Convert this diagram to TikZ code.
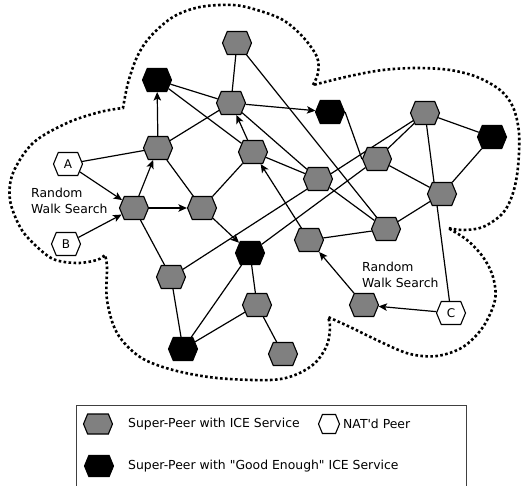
\documentclass[tikz,border=0pt]{standalone}
\usepackage{fontspec}
\newfontfamily\dv{DejaVu Sans}
\usetikzlibrary{shapes.symbols,arrows.meta,backgrounds}
\begin{document}
\begin{tikzpicture}[x=1pt,y=-1pt,
  hex/.style={signal, signal to=east and west, signal pointer angle=135, draw=black, line width=1.1pt, inner sep=0pt, minimum width=29pt, minimum height=23pt, font=\dv\fontsize{12}{14}\selectfont},
  sp/.style={hex, fill=gray},
  gp/.style={hex, fill=black},
  np/.style={hex, fill=white},
  link/.style={line width=1.2pt, draw=black},
  arr/.style={link, -{Stealth[length=8.5pt,width=7.5pt,inset=2pt]}},
  cloud/.style={line width=2.6pt, dash pattern=on 2.6pt off 2.4pt},
  lbl/.style={font=\dv\fontsize{12.4}{16}\selectfont, align=left, inner sep=0pt, anchor=west},
  legbox/.style={draw=black!75, line width=0.8pt}
]
\useasboundingbox (0,0) rectangle (521,486);

% nodes
\node[sp] (T) at (237,43) {};
\node[gp] (K1) at (157,80) {};
\node[sp] (N1) at (231,103) {};
\node[gp] (K2) at (330,112) {};
\node[sp] (N2) at (425,113) {};
\node[gp] (K3) at (492,137) {};
\node[sp] (N3) at (158,148) {};
\node[sp] (N4) at (253,152) {};
\node[sp] (N5) at (377,159) {};
\node[np] (A) at (68,164) {A};
\node[sp] (N6) at (318,179) {};
\node[sp] (N7) at (442,194) {};
\node[sp] (N8) at (134,208) {};
\node[sp] (N9) at (202,208) {};
\node[sp] (N10) at (386,229) {};
\node[sp] (N11) at (309,240) {};
\node[np] (B) at (66,244) {B};
\node[gp] (K4) at (250,253) {};
\node[sp] (N12) at (171,277) {};
\node[sp] (N13) at (257,305) {};
\node[sp] (N14) at (364,305) {};
\node[np] (C) at (451,313) {C};
\node[gp] (K5) at (183,349) {};
\node[sp] (N15) at (283,354) {};

\node[lbl] (rw1) at (31,201) {Random\\Walk Search};
\node[lbl] (rw2) at (362,275) {Random\\Walk Search};

% legend
\draw[legbox] (76,492) -- (76,405) -- (466,405) -- (466,492);
\node[sp, minimum height=20pt] (L1) at (98,424) {};
\node[lbl] (L1t) at (128,424) {Super-Peer with ICE Service};
\node[np, minimum width=21pt, minimum height=19pt] (L2) at (329,424) {};
\node[lbl] (L2t) at (343,424) {NAT'd Peer};
\node[gp, minimum height=21pt] (L3) at (99,466) {};
\node[lbl] (L3t) at (128,466) {Super-Peer with "Good Enough" ICE Service};

\begin{scope}[on background layer]
% cloud
\draw[cloud] plot[smooth, tension=0.55] coordinates {(313,85) (318,73) (317,57) (303,37) (283,20) (257,10) (233,5) (200,7) (173,17) (150,37) (137,57) (128,83) (123,108)}
 -- plot[smooth, tension=0.55] coordinates {(123,108) (100,112) (67,123) (33,143) (13,173) (10,200) (20,227) (33,243) (53,259) (77,263) (97,260) (105,255)}
 -- plot[smooth, tension=0.55] coordinates {(105,255) (107,267) (107,300) (117,333) (140,357) (173,370) (217,378) (270,380) (295,375) (315,363) (327,345) (330,327) (328,317)}
 -- plot[smooth, tension=0.55] coordinates {(328,317) (350,327) (383,343) (410,354) (437,356) (463,347) (483,327) (495,300) (493,277) (483,257) (467,240) (448,228)}
 -- plot[smooth, tension=0.55] coordinates {(448,228) (463,230) (483,227) (503,213) (513,193) (518,167) (519,133) (513,107) (500,90) (477,77) (450,70) (417,68) (383,70) (350,76) (313,85)};

% undirected links
\draw[link] (T) -- (N1);
\draw[link] (T) -- (N10);
\draw[link] (K1) -- (N1);
\draw[link] (K1) -- (N4);
\draw[link] (N3) -- (N1);
\draw[link] (N4) -- (N6);
\draw[link] (N1) -- (N6);
\draw[link] (N6) -- (N10);
\draw[link] (N12) -- (N2);
\draw[link] (N5) -- (N2);
\draw[link] (K4) -- (N5);
\draw[link] (K2.east) -- (N5.west);
\draw[link] (N2) -- (K3);
\draw[link] (N2) -- (C);
\draw[link] (K3) -- (N7);
\draw[link] (N5) -- (N7);
\draw[link] (N7) -- (N10);
\draw[link] (N10) -- (N11);
\draw[link] (A) -- (N3);
\draw[link] (N9) -- (N3);
\draw[link] (N9) -- (N4);
\draw[link] (N8) -- (N12);
\draw[link] (N12) -- (K5);
\draw[link] (K4) -- (N13);
\draw[link] (K4) -- (K5);
\draw[link] (N13) -- (K5);
\draw[link] (N13) -- (N15);

% directed links
\draw[arr] (N3) -- (K1);
\draw[arr] (N1) -- (K2);
\draw[arr] (N4) -- (N1);
\draw[arr] (N11) -- (N4);
\draw[arr] (A) -- (N8);
\draw[arr] (B) -- (N8);
\draw[arr] (N8) -- (N3);
\draw[arr] (N8) -- (N9);
\draw[arr] (N9) -- (K4);
\draw[arr] (N14) -- (N11);
\draw[arr] (C) -- (N14);
\end{scope}
\end{tikzpicture}
\end{document}
